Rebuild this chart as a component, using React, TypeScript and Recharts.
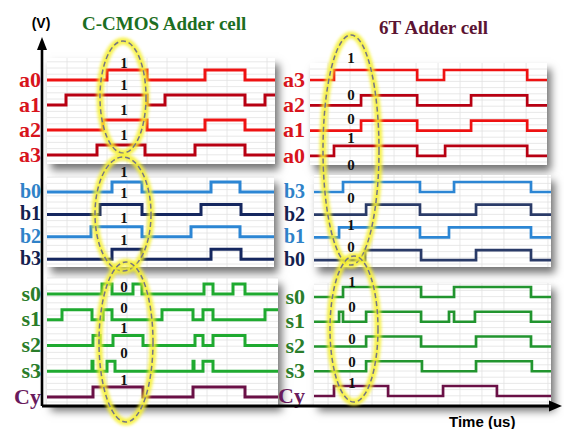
import React from 'react';
import { LineChart, Line, XAxis, YAxis, CartesianGrid } from 'recharts';

// ---- Data: switching instants (us) of each digital signal; every signal starts at logic 0 ----
// C-CMOS adder cell (left)
const cA0 = [3.0, 5.0, 7.9, 9.9];
const cA1 = [0.95, 5.0, 5.9, 9.9, 10.9];
const cA2 = [2.8, 5.0, 7.9, 9.9];
const cA3 = [2.5, 4.9, 7.4, 9.9];
const cB0 = [3.25, 4.75, 8.2, 9.65];
const cB1 = [2.65, 4.75, 7.7, 9.7];
const cB2 = [2.2, 4.75, 7.2, 9.65];
const cB3 = [3.25, 4.75, 8.2, 9.7];
const cS0 = [2.75, 3.25, 4.3, 4.75, 7.85, 8.3, 9.3, 9.9];
const cS1 = [0.75, 2.25, 2.8, 3.25, 5.75, 7.3, 7.8, 8.3, 10.9];
const cS2 = [2.3, 2.65, 3.3, 4.8, 7.4, 7.8, 8.3, 9.9];
const cS3 = [2.25, 2.3, 3.0, 3.4, 7.3, 7.35, 7.8, 8.3];
const cCy = [2.3, 4.8, 7.3, 9.9];
// 6T adder cell (right)
const tA3 = [1.27, 5.05, 6.27, 10.05];
const tA2 = [2.5, 5.05, 7.5, 10.05];
const tA1 = [2.5, 5.05, 7.5, 10.05];
const tA0 = [1.27, 5.05, 6.32, 10.05];
const tB3 = [1.68, 5.18, 6.73, 10.23];
const tB2 = [2.73, 5.18, 7.73, 10.23];
const tB1 = [1.5, 5.18, 6.5, 10.23];
const tB0 = [2.68, 5.23, 7.73, 10.23];
const tS0 = [1.68, 5.23, 6.73, 10.23];
const tS1 = [1.5, 1.68, 2.73, 5.23, 6.5, 6.73, 7.68, 10.23];
const tS2 = [2.73, 5.23, 7.73, 10.23];
const tS3 = [2.73, 5.27, 7.73, 10.27];
const tCy = [1.27, 3.73, 6.23, 8.68];

// sampled bit values inside the highlighted windows
const cBitsA = ['1', '1', '1', '1'];
const cBitsB = ['1', '1', '1', '1'];
const cBitsS = ['0', '0', '1', '0', '1'];
const tBitsAB = ['1', '0', '0', '1', '0', '0', '1', '0'];
const tBitsS = ['1', '0', '0', '0', '1'];

// ---- styles ----
const RED = '#ee1212';
const DRED = '#b80012';
const BLUE = '#2c86d4';
const NAVY = '#15275f';
const NAVY2 = '#2a3b68';
const GREEN = '#1faa30';
const GREEN2 = '#22952f';
const PURPLE = '#6a1046';
const LRED = '#d8141c';
const LBLUE = '#2f82c8';
const LNAVY = '#13214f';
const LGREEN = '#2a7d2a';
const LPURPLE = '#6a1a5c';

type Lane = { name: string; trans: number[]; line: string; label: string };
type Panel = {
  x: number; y: number; w: number; h: number;
  t0: number; t1: number; firstLow: number; spacing: number;
  axisW: number; gap: number; sw: number; fs: number; lanes: Lane[];
};

const SERIF = "'Liberation Serif', 'Times New Roman', serif";
const SANS = "'Liberation Sans', Arial, sans-serif";
const PAD = 14;

const panels: Panel[] = [
  {
    x: 47, y: 58, w: 228, h: 106, t0: 0, t1: 11.4, firstLow: 80, spacing: 25, axisW: 47, gap: 6, sw: 3, fs: 22,
    lanes: [
      { name: 'a0', trans: cA0, line: RED, label: LRED },
      { name: 'a1', trans: cA1, line: DRED, label: LRED },
      { name: 'a2', trans: cA2, line: RED, label: LRED },
      { name: 'a3', trans: cA3, line: DRED, label: LRED },
    ],
  },
  {
    x: 47, y: 177, w: 227, h: 90, t0: 0, t1: 11.35, firstLow: 192, spacing: 22.4, axisW: 47, gap: 6, sw: 3, fs: 20,
    lanes: [
      { name: 'b0', trans: cB0, line: BLUE, label: LBLUE },
      { name: 'b1', trans: cB1, line: NAVY, label: LNAVY },
      { name: 'b2', trans: cB2, line: BLUE, label: LBLUE },
      { name: 'b3', trans: cB3, line: NAVY, label: LNAVY },
    ],
  },
  {
    x: 47, y: 278, w: 231, h: 127, t0: 0, t1: 11.55, firstLow: 294, spacing: 25.75, axisW: 47, gap: 6, sw: 3, fs: 22,
    lanes: [
      { name: 's0', trans: cS0, line: GREEN, label: LGREEN },
      { name: 's1', trans: cS1, line: GREEN, label: LGREEN },
      { name: 's2', trans: cS2, line: GREEN, label: LGREEN },
      { name: 's3', trans: cS3, line: GREEN, label: LGREEN },
      { name: 'Cy', trans: cCy, line: PURPLE, label: LPURPLE },
    ],
  },
  {
    x: 310, y: 63, w: 237, h: 102, t0: 0.18, t1: 10.95, firstLow: 80, spacing: 25.3, axisW: 36, gap: 5, sw: 2.7, fs: 22,
    lanes: [
      { name: 'a3', trans: tA3, line: RED, label: LRED },
      { name: 'a2', trans: tA2, line: DRED, label: LRED },
      { name: 'a1', trans: tA1, line: RED, label: LRED },
      { name: 'a0', trans: tA0, line: DRED, label: LRED },
    ],
  },
  {
    x: 314, y: 175, w: 237, h: 92, t0: 0.36, t1: 11.14, firstLow: 192, spacing: 22.7, axisW: 40, gap: 9, sw: 2.7, fs: 20,
    lanes: [
      { name: 'b3', trans: tB3, line: BLUE, label: LBLUE },
      { name: 'b2', trans: tB2, line: NAVY2, label: LNAVY },
      { name: 'b1', trans: tB1, line: BLUE, label: LBLUE },
      { name: 'b0', trans: tB0, line: NAVY2, label: LNAVY },
    ],
  },
  {
    x: 314, y: 283, w: 237, h: 122, t0: 0.36, t1: 11.14, firstLow: 297, spacing: 24.75, axisW: 40, gap: 9, sw: 2.7, fs: 22,
    lanes: [
      { name: 's0', trans: tS0, line: GREEN2, label: LGREEN },
      { name: 's1', trans: tS1, line: GREEN2, label: LGREEN },
      { name: 's2', trans: tS2, line: GREEN2, label: LGREEN },
      { name: 's3', trans: tS3, line: GREEN2, label: LGREEN },
      { name: 'Cy', trans: tCy, line: PURPLE, label: LPURPLE },
    ],
  },
];

function buildSteps(trans: number[], t0: number, t1: number, base: number) {
  let level = 0;
  const pts = [{ t: t0, v: base }];
  trans.forEach((tt) => {
    level = 1 - level;
    pts.push({ t: tt, v: base + level });
  });
  pts.push({ t: t1, v: base + level });
  return pts;
}

function WavePanel({ p }: { p: Panel }) {
  const top = p.h / 10;
  const bases = p.lanes.map((_, k) => (p.h - (p.firstLow - p.y) - k * p.spacing) / 10);
  const labelVals = bases.map((b) => b + 0.12);
  const hVals: number[] = [];
  for (let v = 0.3; v < top; v += 0.62) hVals.push(v);
  const vVals: number[] = [];
  for (let t = Math.ceil(p.t0 + 0.01); t < p.t1; t++) vVals.push(t);
  const renderTick = (props: any) => {
    const { x, y, payload } = props;
    const idx = labelVals.findIndex((v) => Math.abs(v - payload.value) < 1e-6);
    const lane = p.lanes[idx];
    if (!lane) return <g />;
    return (
      <text x={x} y={y} dy="0.36em" textAnchor="end" fill={lane.label} fontSize={p.fs} fontWeight="bold" fontFamily={SERIF}>
        {lane.name}
      </text>
    );
  };
  return (
    <>
      <div
        style={{
          position: 'absolute', left: p.x, top: p.y, width: p.w, height: p.h,
          background: '#fff', boxShadow: '4px 6px 8px rgba(0,0,0,0.55)',
        }}
      />
      <div style={{ position: 'absolute', left: p.x - p.axisW, top: p.y - PAD }}>
        <LineChart width={p.w + p.axisW} height={p.h + 2 * PAD} margin={{ top: PAD, right: 0, bottom: PAD, left: 0 }}>
          <CartesianGrid stroke="#e2e2e2" strokeWidth={0.8} horizontalValues={hVals} verticalValues={vVals} />
          <XAxis dataKey="t" type="number" domain={[p.t0, p.t1]} allowDataOverflow hide />
          <YAxis
            type="number" domain={[0, top]} allowDataOverflow width={p.axisW}
            ticks={labelVals} interval={0} axisLine={false} tickLine={false}
            tickSize={0} tickMargin={p.gap} tick={renderTick}
          />
          {p.lanes.map((lane, k) => (
            <Line
              key={lane.name}
              data={buildSteps(lane.trans, p.t0, p.t1, bases[k])}
              dataKey="v" type="stepAfter" dot={false} activeDot={false}
              stroke={lane.line} strokeWidth={p.sw} isAnimationActive={false}
            />
          ))}
        </LineChart>
      </div>
    </>
  );
}

const ellipses = [
  { cx: 123, cy: 97, rx: 23, ry: 56 },
  { cx: 123, cy: 214, rx: 28, ry: 57 },
  { cx: 126, cy: 342, rx: 27, ry: 80 },
  { cx: 351, cy: 150, rx: 28, ry: 115 },
  { cx: 354, cy: 329, rx: 24, ry: 73 },
];

const cBitY = [68, 90, 115, 140];
const cBitYB = [177, 198, 223, 245];
const cBitYS = [292, 313, 333, 358, 385];
const tBitYAB = [63, 100, 124, 143, 170, 203, 230, 252];
const tBitYS = [287, 312, 344, 367, 388];

export default function App() {
  const bits: { x: number; y: number; s: string }[] = [];
  cBitsA.forEach((s, i) => bits.push({ x: 124, y: cBitY[i], s }));
  cBitsB.forEach((s, i) => bits.push({ x: 124, y: cBitYB[i], s }));
  cBitsS.forEach((s, i) => bits.push({ x: 124, y: cBitYS[i], s }));
  tBitsAB.forEach((s, i) => bits.push({ x: 351, y: tBitYAB[i], s }));
  tBitsS.forEach((s, i) => bits.push({ x: 352, y: tBitYS[i], s }));
  return (
    <div style={{ position: 'absolute', left: 0, top: 0, width: 564, height: 429, background: '#fff', overflow: 'hidden' }}>
      {panels.map((p, i) => (
        <WavePanel key={i} p={p} />
      ))}
      <svg width={564} height={429} style={{ position: 'absolute', left: 0, top: 0, pointerEvents: 'none' }}>
        <defs>
          <filter id="glow" x="-50%" y="-50%" width="200%" height="200%">
            <feGaussianBlur stdDeviation="1.4" />
          </filter>
        </defs>
        {/* axes */}
        <line x1={42} y1={406} x2={42} y2={46} stroke="#000" strokeWidth={2.6} />
        <polygon points="42,37 37,50 47,50" fill="#000" />
        <line x1={42} y1={406} x2={552} y2={406} stroke="#000" strokeWidth={2.8} />
        <polygon points="562,406 549,400.5 549,411.5" fill="#000" />
        {/* highlight ellipses */}
        {ellipses.map((e, i) => (
          <g key={i}>
            <ellipse cx={e.cx} cy={e.cy} rx={e.rx} ry={e.ry} fill="none" stroke="#f6f030" strokeWidth={7} opacity={0.85} filter="url(#glow)" />
            <ellipse cx={e.cx} cy={e.cy} rx={e.rx} ry={e.ry} fill="none" stroke="#757585" strokeWidth={1.5} strokeDasharray="5 3" />
          </g>
        ))}
        {bits.map((b, i) => (
          <text key={i} x={b.x} y={b.y} textAnchor="middle" fontSize={15} fontWeight="bold" fontFamily={SERIF} fill="#111">
            {b.s}
          </text>
        ))}
        <text x={41} y={28} textAnchor="middle" fontSize={14} fontWeight="bold" fontFamily={SANS} fill="#000">(V)</text>
        <text x={82} y={30} fontSize={19} fontWeight="bold" fontFamily={SERIF} fill="#1c6e22">C-CMOS Adder cell</text>
        <text x={379} y={34} fontSize={19} fontWeight="bold" fontFamily={SERIF} fill="#5c1433">6T Adder cell</text>
        <text x={449} y={427} fontSize={15} fontWeight="bold" fontFamily={SANS} fill="#000">Time (us)</text>
      </svg>
    </div>
  );
}
